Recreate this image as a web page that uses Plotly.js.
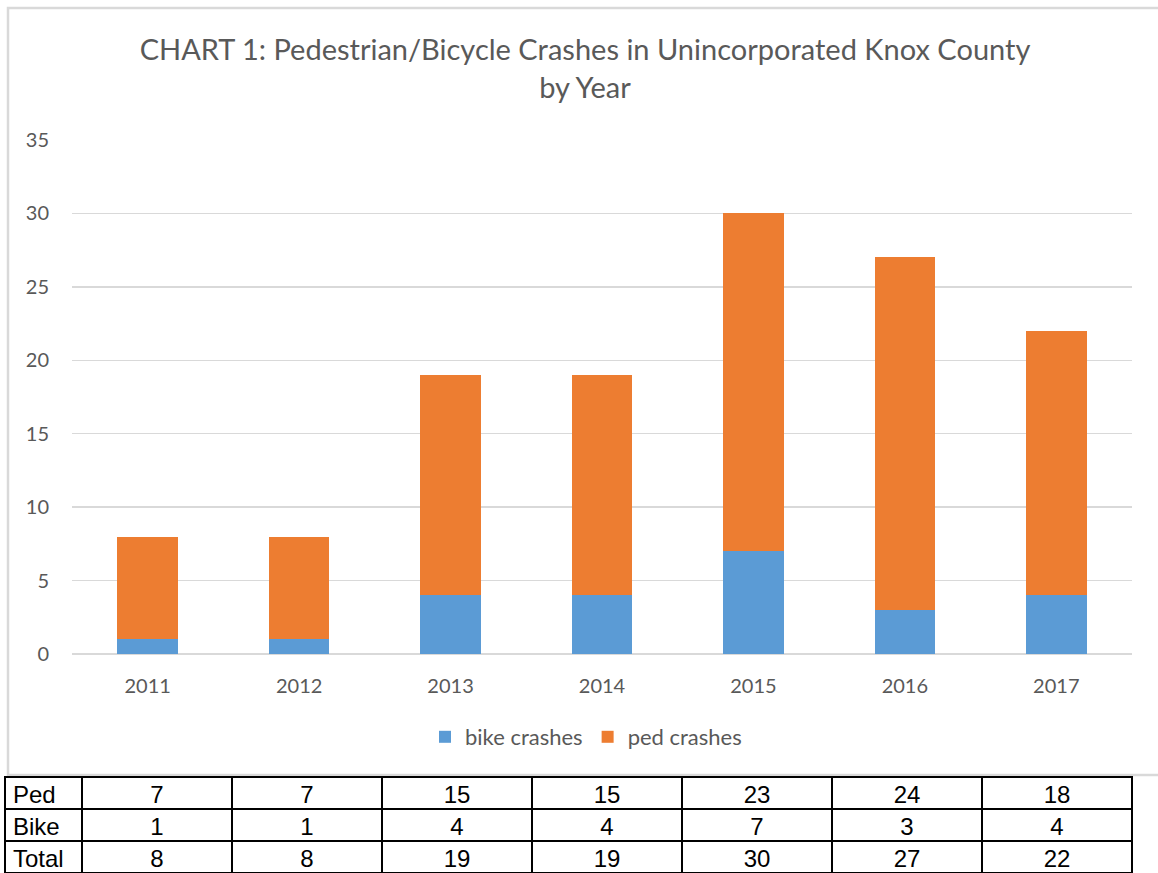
<!DOCTYPE html>
<html>
<head>
<meta charset="utf-8">
<script src="https://cdn.plot.ly/plotly-3.0.1.min.js"></script>
<style>
html,body{margin:0;padding:0;background:#fff;}
#chart{width:1158px;height:873px;}
</style>
</head>
<body>
<div id="chart"></div>
<script>
// ---- data ----
const years = ['2011','2012','2013','2014','2015','2016','2017'];
const bikeCrashes = [1, 1, 4, 4, 7, 3, 4];
const pedCrashes = [7, 7, 15, 15, 23, 24, 18];
const totalCrashes = [8, 8, 19, 19, 30, 27, 22];
const rowLabels = ['Ped', 'Bike', 'Total'];
const seriesNames = ['bike crashes', 'ped crashes'];
const chartTitle = 'CHART 1: Pedestrian/Bicycle Crashes in Unincorporated Knox County<br>by Year';

// ---- layout helpers ----
const W = 1158, H = 873;
const px = v => v / W;
const py = v => 1 - v / H;
const textColor = '#595959';
const baseFont = 'Lato, "Open Sans", sans-serif';
const tableFont = '"Liberation Sans Narrow", "Arial Narrow", "Liberation Sans", Arial, sans-serif';

const bikeTrace = {
  type: 'bar', x: years, y: bikeCrashes, name: seriesNames[0],
  marker: {color: '#5B9BD5'}, hoverinfo: 'skip'
};
const pedTrace = {
  type: 'bar', x: years, y: pedCrashes, name: seriesNames[1],
  marker: {color: '#ED7D31'}, hoverinfo: 'skip'
};

// table: header row = Ped, cell rows = Bike, Total
const headerVals = [[rowLabels[0]]].concat(pedCrashes.map(v => [String(v)]));
const cellVals = [[rowLabels[1], rowLabels[2]]].concat(
  years.map((y, i) => [String(bikeCrashes[i]), String(totalCrashes[i])])
);
const aligns = ['left'].concat(years.map(() => 'center'));
const tableTrace = {
  type: 'table',
  domain: {x: [px(5), px(1132)], y: [0, py(777)]},
  columnwidth: [77].concat(years.map(() => 150)),
  header: {
    values: headerVals, height: 32, align: aligns,
    line: {color: '#000', width: 2}, fill: {color: '#fff'},
    font: {family: tableFont, size: 24, color: '#000'}
  },
  cells: {
    values: cellVals, height: 32, align: aligns,
    line: {color: '#000', width: 2}, fill: {color: '#fff'},
    font: {family: tableFont, size: 24, color: '#000'}
  }
};

const layout = {
  width: W, height: H,
  margin: {l: 0, r: 0, t: 0, b: 0},
  paper_bgcolor: '#fff', plot_bgcolor: '#fff',
  barmode: 'stack', bargap: 0.6,
  font: {family: baseFont, color: textColor, size: 20},
  title: {
    text: chartTitle,
    font: {family: baseFont, size: 29, color: textColor},
    x: px(585), xanchor: 'center', xref: 'paper',
    y: py(60), yanchor: 'top', yref: 'container'
  },
  xaxis: {
    domain: [px(72), px(1132)],
    anchor: 'y',
    type: 'category',
    showgrid: false, showline: false, zeroline: false,
    ticks: 'outside', ticklen: 14, tickcolor: 'rgba(0,0,0,0)',
    tickfont: {family: baseFont, size: 20, color: textColor}
  },
  yaxis: {
    domain: [py(654), py(140)],
    range: [0, 35], dtick: 5, tick0: 0,
    showgrid: true, gridcolor: '#d9d9d9', gridwidth: 1.5,
    zeroline: true, zerolinecolor: '#d9d9d9', zerolinewidth: 1.5,
    showline: false,
    ticks: 'outside', ticklen: 18, tickcolor: 'rgba(0,0,0,0)',
    tickfont: {family: baseFont, size: 20, color: textColor}
  },
  showlegend: true,
  legend: {
    orientation: 'h', x: px(586), xanchor: 'center',
    y: py(737), yanchor: 'middle',
    font: {family: baseFont, size: 22, color: textColor},
    itemwidth: 30, tracegroupgap: 0, traceorder: 'normal'
  },
  shapes: [{
    type: 'rect', xref: 'paper', yref: 'paper',
    x0: px(8), x1: 1.02, y0: py(775), y1: py(8),
    line: {color: '#d9d9d9', width: 2.5}, fillcolor: 'rgba(0,0,0,0)', layer: 'below'
  }]
};

Plotly.newPlot('chart', [bikeTrace, pedTrace, tableTrace], layout, {displayModeBar: false, staticPlot: true});
</script>
</body>
</html>
